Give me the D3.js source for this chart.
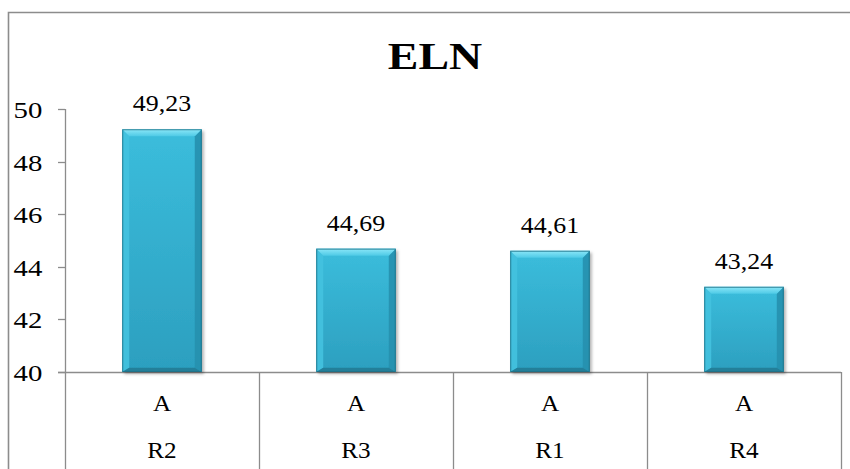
<!DOCTYPE html>
<html>
<head>
<meta charset="utf-8">
<script src="https://cdn.jsdelivr.net/npm/d3@7"></script>
<style>
  html, body { margin: 0; padding: 0; background: #fff; }
  svg { display: block; }
</style>
</head>
<body>
<svg id="chart" width="850" height="469"></svg>
<script>
// Chart data
const title = "ELN";
const categories = ["R2", "R3", "R1", "R4"];
const groupLabels = ["A", "A", "A", "A"];
const values = [49.23, 44.69, 44.61, 43.24];
const yTicks = [40, 42, 44, 46, 48, 50];

const W = 850, H = 469;
const svg = d3.select("#chart");
const FONT = "Liberation Serif";

const plot = { left: 65, right: 841, top: 109, bottom: 372 };
const x = d3.scaleBand().domain(categories).range([plot.left, plot.right]).padding(0);
const y = d3.scaleLinear().domain([40, 50]).range([plot.bottom, plot.top]);

const gray = "#8c8c8c";

// text drawn with a slight horizontal stretch
function label(g, tx, ty, str, size, opts = {}) {
  return g.append("text")
    .attr("transform", `translate(${tx},${ty}) scale(${opts.sx || 1.1},1)`)
    .attr("text-anchor", opts.anchor || "middle")
    .style("font-family", FONT)
    .style("font-size", size + "px")
    .style("font-weight", opts.weight || "normal")
    .attr("fill", "#000")
    .text(str);
}

// defs: gradients and shadow
const defs = svg.append("defs");
const face = defs.append("linearGradient").attr("id", "face").attr("x1", 0).attr("y1", 0).attr("x2", 0).attr("y2", 1);
face.append("stop").attr("offset", "0%").attr("stop-color", "#3bbddc");
face.append("stop").attr("offset", "100%").attr("stop-color", "#2c9fbf");
const topB = defs.append("linearGradient").attr("id", "topB").attr("x1", 0).attr("y1", 0).attr("x2", 0).attr("y2", 1);
topB.append("stop").attr("offset", "0%").attr("stop-color", "#8ce7f8");
topB.append("stop").attr("offset", "100%").attr("stop-color", "#4ecae6");
const shadow = defs.append("filter").attr("id", "shadow").attr("x", "-20%").attr("y", "-10%").attr("width", "150%").attr("height", "130%");
shadow.append("feDropShadow").attr("dx", 2).attr("dy", 2).attr("stdDeviation", 1.6)
  .attr("flood-color", "#000").attr("flood-opacity", 0.3);

// outer chart border
svg.append("path")
  .attr("d", `M8.5,${H} V12.5 H${W}`)
  .attr("fill", "none").attr("stroke", gray).attr("stroke-width", 1.6);

// title
label(svg, 435, 69, title, 37, { weight: "bold", sx: 1.24 });

// y axis
const yAxis = svg.append("g");
yAxis.append("line")
  .attr("x1", plot.left + 0.5).attr("x2", plot.left + 0.5)
  .attr("y1", plot.top).attr("y2", H)
  .attr("stroke", gray).attr("stroke-width", 1.3);
yAxis.selectAll("line.tick").data(yTicks).join("line")
  .attr("class", "tick")
  .attr("x1", plot.left - 7).attr("x2", plot.left)
  .attr("y1", d => Math.round(y(d)) + 0.5).attr("y2", d => Math.round(y(d)) + 0.5)
  .attr("stroke", gray).attr("stroke-width", 1.3);
yTicks.forEach(t => label(yAxis, 28, y(t) + 9, String(t), 24, { sx: 1.2 }));

// category axis (two-level table)
const xAxis = svg.append("g");
xAxis.append("line")
  .attr("x1", plot.left - 7).attr("x2", plot.right)
  .attr("y1", plot.bottom + 0.5).attr("y2", plot.bottom + 0.5)
  .attr("stroke", gray).attr("stroke-width", 1.3);
const bounds = categories.map(c => x(c)).concat([plot.right]);
xAxis.selectAll("line.div").data(bounds.slice(1)).join("line")
  .attr("class", "div")
  .attr("x1", d => d + 0.5).attr("x2", d => d + 0.5)
  .attr("y1", plot.bottom).attr("y2", H)
  .attr("stroke", gray).attr("stroke-width", 1.3);
categories.forEach((c, i) => {
  const cx = x(c) + x.bandwidth() / 2;
  label(xAxis, cx, 411, groupLabels[i], 24, { sx: 1.05 });
  label(xAxis, cx, 458, c, 24, { sx: 1.05 });
});

// bars with bevel
const barW = x.bandwidth() * 0.41;
const bev = 7;
const bars = svg.append("g");
categories.forEach((c, i) => {
  const cx = x(c) + x.bandwidth() / 2;
  const x0 = cx - barW / 2, x1 = cx + barW / 2;
  const y0 = y(values[i]), y1 = y(40);
  const g = bars.append("g");
  g.append("rect").attr("x", x0).attr("y", y0).attr("width", barW).attr("height", y1 - y0)
    .attr("fill", "url(#face)").attr("filter", "url(#shadow)");
  // left bevel
  g.append("polygon").attr("points", [[x0, y0], [x0 + bev, y0 + bev], [x0 + bev, y1 - bev * 0.6], [x0, y1]].join(" "))
    .attr("fill", "#44c2df").attr("opacity", 0.9);
  // right bevel
  g.append("polygon").attr("points", [[x1, y0], [x1 - bev, y0 + bev], [x1 - bev, y1 - bev * 0.6], [x1, y1]].join(" "))
    .attr("fill", "#2690ae").attr("opacity", 0.9);
  // bottom bevel
  g.append("polygon").attr("points", [[x0, y1], [x0 + bev, y1 - bev * 0.6], [x1 - bev, y1 - bev * 0.6], [x1, y1]].join(" "))
    .attr("fill", "#237f99");
  // top bevel
  g.append("polygon").attr("points", [[x0, y0], [x1, y0], [x1 - bev, y0 + bev], [x0 + bev, y0 + bev]].join(" "))
    .attr("fill", "url(#topB)");
  // outline
  g.append("rect").attr("x", x0 + 0.5).attr("y", y0 + 0.5).attr("width", barW - 1).attr("height", y1 - y0 - 1)
    .attr("fill", "none").attr("stroke", "#1f6f85").attr("stroke-width", 1).attr("opacity", 0.8);
  // value label
  label(bars, cx, y0 - 18, values[i].toFixed(2).replace(".", ","), 24, { sx: 1.08 });
});
</script>
</body>
</html>
